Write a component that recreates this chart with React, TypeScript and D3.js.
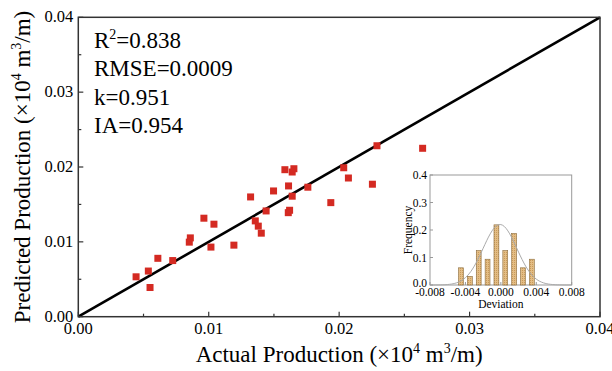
import React from "react";
import * as d3 from "d3";

const actual = [0.00443,0.00537,0.0055,0.0061,0.00724,0.00851,0.00859,0.00963,0.01017,0.0104,0.01193,0.01321,0.01357,0.0138,0.01403,0.0144,0.01497,0.01584,0.01612,0.0161,0.0162,0.0164,0.0164,0.01653,0.0176,0.01936,0.02035,0.02071,0.0229,0.0264,0.02255];
const predicted = [0.00533,0.0061,0.0039,0.0078,0.0075,0.00996,0.01053,0.01316,0.0093,0.01236,0.00956,0.016,0.0128,0.0121,0.01116,0.01413,0.0168,0.01964,0.01747,0.0139,0.01422,0.0161,0.01933,0.01977,0.0173,0.01524,0.0199,0.01853,0.02284,0.0225,0.0177];
const xTicks = [0, 0.01, 0.02, 0.03, 0.04];
const yTicks = [0, 0.01, 0.02, 0.03, 0.04];
const binCenters = [-0.0045,-0.0035,-0.0025,-0.0015,-0.0005,0.0005,0.0015,0.0025,0.0035];
const binFreq = [0.0625,0.03125,0.125,0.09375,0.21875,0.125,0.1875,0.0625,0.09375];
const devTicks = [-0.008,-0.004,0,0.004,0.008];
const freqTicks = [0,0.1,0.2,0.3,0.4];
const fitMean = -0.0001;
const fitSd = 0.0019;
const fitPeak = 0.22;
const stats = ["RMSE=0.0009","k=0.951","IA=0.954"];

const serif = "'Liberation Serif','Times New Roman',serif";

export default function App() {
  const L = 78.3, R = 600, T = 17.3, B = 316.7;
  const x = d3.scaleLinear().domain([0, 0.04]).range([L, R]);
  const y = d3.scaleLinear().domain([0, 0.04]).range([B, T]);
  const minor = d3.range(0.005, 0.04, 0.01);

  const iL = 430, iR = 571.7, iT = 175, iB = 285;
  const ix = d3.scaleLinear().domain([-0.008, 0.008]).range([iL, iR]);
  const iy = d3.scaleLinear().domain([0, 0.4]).range([iB, iT]);
  const curvePts = d3.range(-0.008, 0.00801, 0.0002).map(v => [v, fitPeak * Math.exp(-0.5 * ((v - fitMean) / fitSd) ** 2)] as [number, number]);
  const curve = d3.line<[number, number]>().x(d => ix(d[0])).y(d => iy(d[1]))(curvePts) || "";
  const bw = ix(0.00055) - ix(0);

  return (
    <svg width={612} height={371} style={{ position: "absolute", left: 0, top: 0, background: "#fff" }} fontFamily={serif}>
      <defs>
        <pattern id="hatch" width="2" height="2" patternUnits="userSpaceOnUse">
          <rect width="2" height="2" fill="#e3bd85" />
          <rect width="1" height="1" fill="#c99a5a" />
        </pattern>
      </defs>
      <rect width={612} height={371} fill="#fff" />
      <line x1={x(0)} y1={y(0)} x2={x(0.04)} y2={y(0.04)} stroke="#000" strokeWidth={2.6} />
      {actual.map((a, i) => (
        <rect key={i} x={x(a) - 3.5} y={y(predicted[i]) - 3.5} width={7} height={7} fill="#d42a22" />
      ))}
      <rect x={L} y={T} width={R - L} height={B - T} fill="none" stroke="#333" strokeWidth={1.5} />
      {xTicks.map((t, i) => (
        <g key={"xt" + i}>
          <line x1={x(t)} x2={x(t)} y1={B} y2={B - 5} stroke="#333" strokeWidth={1.2} />
          <text x={x(t)} y={B + 17} textAnchor="middle" fontSize={16.5}>{t.toFixed(2)}</text>
        </g>
      ))}
      {minor.map((t, i) => (
        <g key={"mn" + i}>
          <line x1={x(t)} x2={x(t)} y1={B} y2={B - 3} stroke="#333" strokeWidth={1.2} />
          <line x1={L} x2={L + 3} y1={y(t)} y2={y(t)} stroke="#333" strokeWidth={1.2} />
        </g>
      ))}
      {yTicks.map((t, i) => (
        <g key={"yt" + i}>
          <line x1={L} x2={L + 5} y1={y(t)} y2={y(t)} stroke="#333" strokeWidth={1.2} />
          <text x={L - 5} y={y(t) + 5} textAnchor="end" fontSize={16.5}>{t.toFixed(2)}</text>
        </g>
      ))}
      <text x={(L + R) / 2} y={362} textAnchor="middle" fontSize={23}>
        Actual Production (×10<tspan dy={-9} fontSize={14}>4</tspan><tspan dy={9}> m</tspan><tspan dy={-9} fontSize={14}>3</tspan><tspan dy={9}>/m)</tspan>
      </text>
      <text transform={`translate(30,${(T + B) / 2}) rotate(-90)`} textAnchor="middle" fontSize={23}>
        Predicted Production (×10<tspan dy={-9} fontSize={14}>4</tspan><tspan dy={9}> m</tspan><tspan dy={-9} fontSize={14}>3</tspan><tspan dy={9}>/m)</tspan>
      </text>
      <text x={94} y={48} fontSize={23}>R<tspan dy={-9} fontSize={14}>2</tspan><tspan dy={9}>=0.838</tspan></text>
      {stats.map((s, i) => (
        <text key={s} x={94} y={76 + i * 28.5} fontSize={23}>{s}</text>
      ))}
      <rect x={iL} y={iT} width={iR - iL} height={iB - iT} fill="#fff" stroke="#999" strokeWidth={1} />
      {binCenters.map((c, i) => (
        <rect key={"b" + i} x={ix(c) - bw / 2} y={iy(binFreq[i])} width={bw} height={iB - iy(binFreq[i])} fill="url(#hatch)" stroke="#8a6a3a" strokeWidth={0.6} />
      ))}
      <path d={curve} fill="none" stroke="#aaa" strokeWidth={1} />
      {devTicks.map((t, i) => (
        <g key={"dt" + i}>
          <line x1={ix(t)} x2={ix(t)} y1={iB} y2={iB - 3} stroke="#999" />
          <text x={ix(t)} y={iB + 11} textAnchor="middle" fontSize={11.5}>{t === 0 ? "0.000" : t.toFixed(3)}</text>
        </g>
      ))}
      {freqTicks.map((t, i) => (
        <g key={"ft" + i}>
          <line x1={iL} x2={iL + 3} y1={iy(t)} y2={iy(t)} stroke="#999" />
          <text x={iL - 3} y={iy(t) + (t === 0 ? 2 : 4)} textAnchor="end" fontSize={11.5}>{t.toFixed(1)}</text>
        </g>
      ))}
      <text x={(iL + iR) / 2} y={iB + 23} textAnchor="middle" fontSize={11.5}>Deviation</text>
      <text transform={`translate(412,${(iT + iB) / 2}) rotate(-90)`} textAnchor="middle" fontSize={11.5}>Frequency</text>
    </svg>
  );
}
